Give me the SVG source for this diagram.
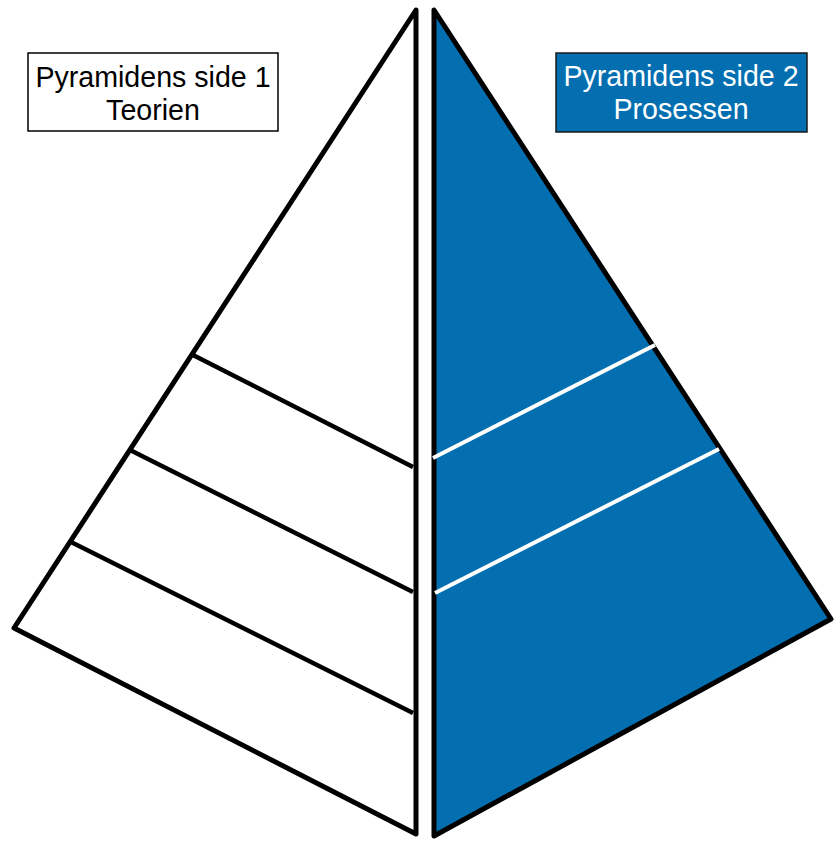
<svg xmlns="http://www.w3.org/2000/svg" width="834" height="842" viewBox="0 0 834 842">
<style>
.tri{stroke:#000;stroke-width:5;stroke-linejoin:round}
.lb{fill:none;stroke:#000;stroke-width:4.5;stroke-linecap:butt}
.lw{fill:none;stroke:#fff;stroke-width:4;stroke-linecap:butt}
.t{font-family:"Liberation Sans",Arial,sans-serif;font-size:28.6px;text-anchor:middle}
</style>
<rect width="834" height="842" fill="#fff"/>
<g id="side1">
<polygon class="tri" points="416,10 14,628 416,834" fill="#fff"/>
</g>
<g id="side2">
<polygon class="tri" points="434,10 831,619 434,836" fill="#036FB0"/>
</g>
<g id="connectors">
<line class="lb" x1="191" y1="354" x2="413" y2="467"/>
<line class="lb" x1="130" y1="450" x2="413" y2="592"/>
<line class="lb" x1="71" y1="542" x2="413" y2="713"/>
<line class="lw" x1="433" y1="458" x2="655" y2="345"/>
<line class="lw" x1="435" y1="593" x2="719" y2="449"/>
</g>
<g id="label1">
<rect x="28" y="53" width="250" height="78" fill="#fff" stroke="#000" stroke-width="1.5"/>
<text class="t" x="153" y="87" fill="#000">Pyramidens side 1</text>
<text class="t" x="153" y="120" fill="#000">Teorien</text>
</g>
<g id="label2">
<rect x="556" y="53" width="251" height="79" fill="#036FB0" stroke="#1a1a1a" stroke-width="1.5"/>
<text class="t" x="681" y="86" fill="#fff">Pyramidens side 2</text>
<text class="t" x="681" y="119" fill="#fff">Prosessen</text>
</g>
</svg>
